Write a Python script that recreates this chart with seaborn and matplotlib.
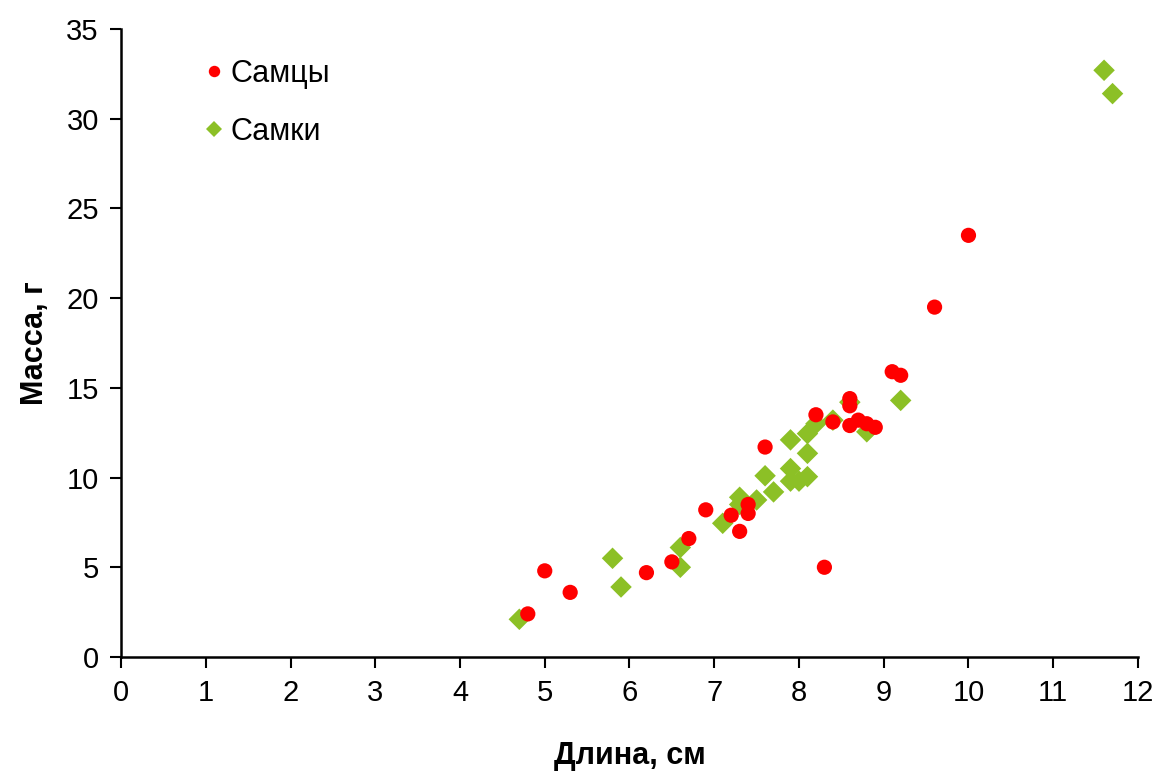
import matplotlib
matplotlib.use("Agg")
import matplotlib.pyplot as plt
import numpy as np
import pandas as pd
import seaborn as sns

# ── Data (length, cm / mass, g) ─────────────────────────────────────────────
female_len = [4.7, 5.8, 5.9, 6.6, 6.6, 7.1, 7.3, 7.3, 7.5, 7.6, 7.7, 7.9,
              7.9, 7.9, 8.0, 8.1, 8.1, 8.1, 8.2, 8.4, 8.6, 8.8, 9.2, 11.6, 11.7]
female_mass = [2.1, 5.5, 3.9, 6.1, 5.0, 7.45, 8.9, 8.5, 8.75, 10.1, 9.2, 12.1,
               10.5, 9.8, 9.8, 10.05, 11.35, 12.45, 13.0, 13.2, 14.2, 12.55, 14.3, 32.7, 31.4]

male_len = [4.8, 5.0, 5.3, 6.2, 6.5, 6.7, 6.9, 7.2, 7.3, 7.4, 7.4, 7.6, 8.2,
            8.4, 8.3, 8.6, 8.6, 8.6, 8.7, 8.8, 8.9, 9.1, 9.2, 9.6, 10.0]
male_mass = [2.4, 4.8, 3.6, 4.7, 5.3, 6.6, 8.2, 7.9, 7.0, 8.5, 8.0, 11.7, 13.5,
             13.1, 5.0, 14.4, 14.0, 12.9, 13.2, 13.0, 12.8, 15.9, 15.7, 19.5, 23.5]

groups = ["Самцы", "Самки"]
colors = {"Самцы": "#ff0000", "Самки": "#8cc026"}
markers = {"Самцы": "o", "Самки": "D"}

# females first so the red circles sit on top
df = pd.DataFrame({
    "length": female_len + male_len,
    "mass": female_mass + male_mass,
    "sex": ["Самки"] * len(female_len) + ["Самцы"] * len(male_len),
})

sns.set_style("white")
plt.rcParams["font.family"] = ["Liberation Sans", "DejaVu Sans"]
for key in ["text.color", "axes.labelcolor", "xtick.color", "ytick.color"]:
    plt.rcParams[key] = "black"

fig = plt.figure(figsize=(11.58, 7.76), dpi=100)
ax = fig.add_axes([0.1045, 0.1534, 0.8782, 0.8092])

sns.scatterplot(
    data=df, x="length", y="mass", hue="sex", style="sex",
    hue_order=groups, style_order=groups,
    palette=colors, markers=markers,
    s=120, linewidth=0, ax=ax,
)

ax.set_xlim(0, 12)
ax.set_ylim(0, 35)
ax.set_xticks(range(0, 13))
ax.set_yticks(range(0, 36, 5))
ax.tick_params(axis="both", labelsize=21, length=8, width=1.5,
               direction="out", color="black", pad=8)
ax.tick_params(axis="both", which="both", bottom=True, left=True)
for side in ["top", "right"]:
    ax.spines[side].set_visible(False)
for side in ["left", "bottom"]:
    ax.spines[side].set_color("black")
    ax.spines[side].set_linewidth(1.8)

ax.set_xlabel("Длина, см", fontsize=22, fontweight="bold", labelpad=24)
ax.set_ylabel("Масса, г", fontsize=22, fontweight="bold", labelpad=12)

sns.move_legend(ax, "upper left", bbox_to_anchor=(0.079, 0.953), frameon=False,
                title=None, fontsize=22, markerscale=0.75, handlelength=0.8,
                handletextpad=0.15, labelspacing=0.92, borderaxespad=0,
                borderpad=0)

fig.savefig("out.png", dpi=100)
